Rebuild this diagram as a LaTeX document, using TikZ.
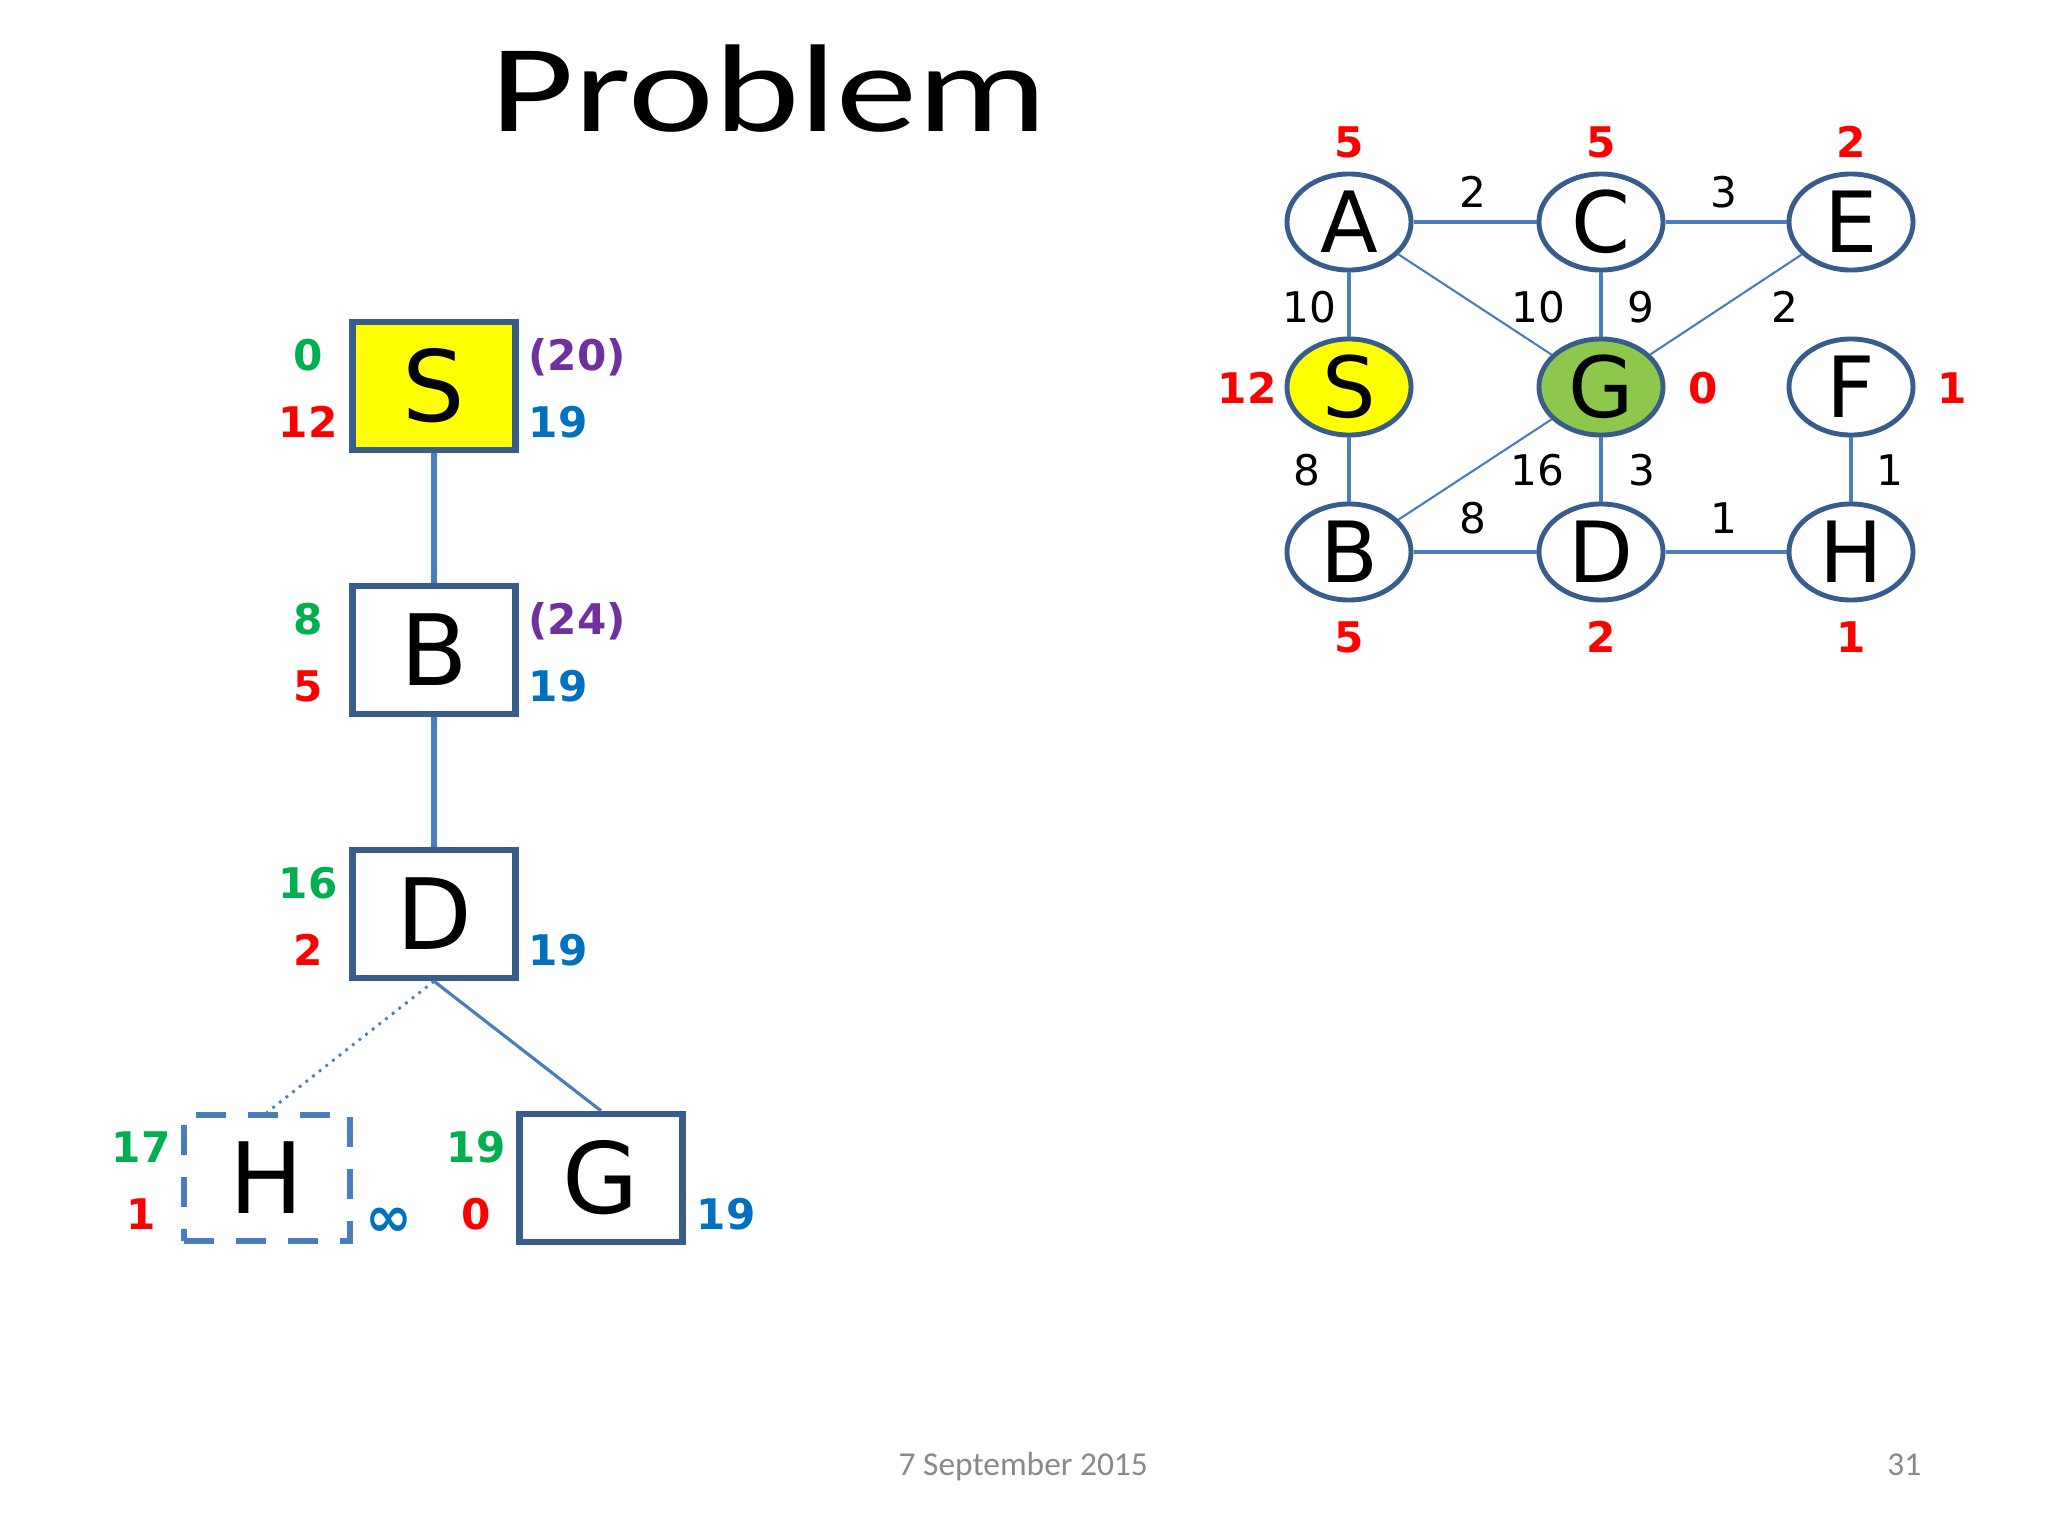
\documentclass[tikz,border=0pt]{standalone}
\usepackage{fontspec}
\usepackage{graphicx}
\usepackage{tikz}
\usetikzlibrary{shapes.geometric}
\setmainfont{DejaVu Sans}
\newfontfamily\slidefont{Carlito}
\definecolor{nodeBorder}{RGB}{56,93,138}
\definecolor{edgeBlue}{RGB}{74,126,187}
\definecolor{startYellow}{RGB}{255,255,0}
\definecolor{goalGreen}{RGB}{141,200,77}
\definecolor{gCost}{RGB}{0,176,80}
\definecolor{hCost}{RGB}{255,0,0}
\definecolor{fBound}{RGB}{112,48,160}
\definecolor{fCost}{RGB}{0,112,192}
\definecolor{footGray}{RGB}{137,137,137}

\tikzset{
  treebox/.style={draw=nodeBorder, line width=1.8pt, fill=white, minimum width=1.63cm, minimum height=1.28cm, inner sep=0pt, font=\fontsize{28}{30}\selectfont},
  openbox/.style={treebox, draw=edgeBlue, line width=1.5pt, dash pattern=on 3mm off 2.2mm, minimum width=1.66cm, minimum height=1.26cm},
  gnode/.style={ellipse, draw=nodeBorder, line width=1.4pt, minimum width=1.24cm, minimum height=0.96cm, inner sep=0pt, font=\fontsize{24}{26}\selectfont},
  heavy/.style={draw=edgeBlue, line width=1.4pt},
  light/.style={draw=edgeBlue, line width=0.6pt},
  wlabel/.style={inner sep=0pt, font=\fontsize{12}{14}\selectfont},
  costlab/.style={inner sep=0pt, font=\fontsize{12}{14}\selectfont\bfseries}
}

\begin{document}
\begin{tikzpicture}[x=0.01cm, y=-0.01cm]
\fill[white] (0,0) rectangle (2048,1536);
\useasboundingbox (0,0) rectangle (2048,1536);

\node[anchor=base, inner sep=0pt, font=\slidefont\fontsize{35.5}{40}\selectfont] (title) at (769,131) {\scalebox{1.3}[1]{Problem}};

% search tree
\node[treebox, fill=startYellow] (tS) at (434,386) {S};
\node[treebox] (tB) at (434,650) {B};
\node[treebox] (tD) at (434,914) {D};
\node[openbox] (tH) at (267,1178) {H};
\node[treebox] (tG) at (601,1178) {G};

\draw[edgeBlue, line width=1.6pt] (tS) -- (tB);
\draw[edgeBlue, line width=1.6pt] (tB) -- (tD);
\draw[edgeBlue, line width=0.8pt, dash pattern=on 0.8pt off 1.6pt] (tD.south) -- (tH.north);
\draw[edgeBlue, line width=0.9pt] (tD.south) -- (tG.north);

\foreach \nm/\x/\y/\t/\c in {S-g/308/370/0/gCost, S-h/308/437/12/hCost, B-g/308/634/8/gCost, B-h/308/701/5/hCost,
    D-g/308/898/16/gCost, D-h/308/965/2/hCost, H-g/141/1162/17/gCost, H-h/141/1229/1/hCost,
    G-g/476/1162/19/gCost, G-h/476/1229/0/hCost}
  \node[costlab, text=\c, anchor=base] (l\nm) at (\x,\y) {\t};
\foreach \nm/\x/\y/\t/\c in {S-b/528/370/{(20)}/fBound, S-f/528/437/19/fCost, B-b/528/634/{(24)}/fBound,
    B-f/528/701/19/fCost, D-f/528/965/19/fCost, G-f/696/1229/19/fCost}
  \node[costlab, text=\c, anchor=base west] (r\nm) at (\x,\y) {\t};
\node[costlab, text=fCost, anchor=base west, font=\fontsize{16}{18}\selectfont\bfseries] (rH-f) at (365,1236) {∞};

% graph
\foreach \n/\x/\y/\c in {A/1349/222/white, C/1601/222/white, E/1851/222/white,
    S/1349/387/startYellow, G/1601/387/goalGreen, F/1851/387/white,
    B/1349/552/white, D/1601/552/white, H/1851/552/white}
  \node[gnode, fill=\c] (g\n) at (\x,\y) {\n};

\foreach \a/\b in {A/C, C/E, A/S, S/B, C/G, G/D, B/D, D/H, F/H}
  \draw[heavy] (g\a) -- (g\b);
\foreach \a/\b in {A/G, E/G, B/G}
  \draw[light] (g\a) -- (g\b);

\foreach \nm/\x/\y/\w in {AC/1473/192/2, CE/1724/192/3, AS/1309/307/10, AG/1538/307/10,
    CG/1641/307/9, EG/1785/307/2, SB/1307/470/8, BG/1537/470/16, GD/1642/470/3,
    FH/1890/470/1, BD/1473/518/8, DH/1724/518/1}
  \node[wlabel] (w\nm) at (\x,\y) {\w};

\foreach \nm/\x/\y/\h in {A/1349/142/5, C/1601/142/5, E/1851/142/2, S/1247/388/12,
    G/1703/388/0, F/1952/388/1, B/1349/637/5, D/1601/637/2, H/1851/637/1}
  \node[costlab, text=hCost] (h\nm) at (\x,\y) {\h};

\node[anchor=base west, inner sep=0pt, text=footGray, font=\slidefont\fontsize{9.5}{11}\selectfont] (date) at (898,1475) {7 September 2015};
\node[anchor=base east, inner sep=0pt, text=footGray, font=\slidefont\fontsize{9.5}{11}\selectfont] (page) at (1922,1475) {31};
\end{tikzpicture}
\end{document}
